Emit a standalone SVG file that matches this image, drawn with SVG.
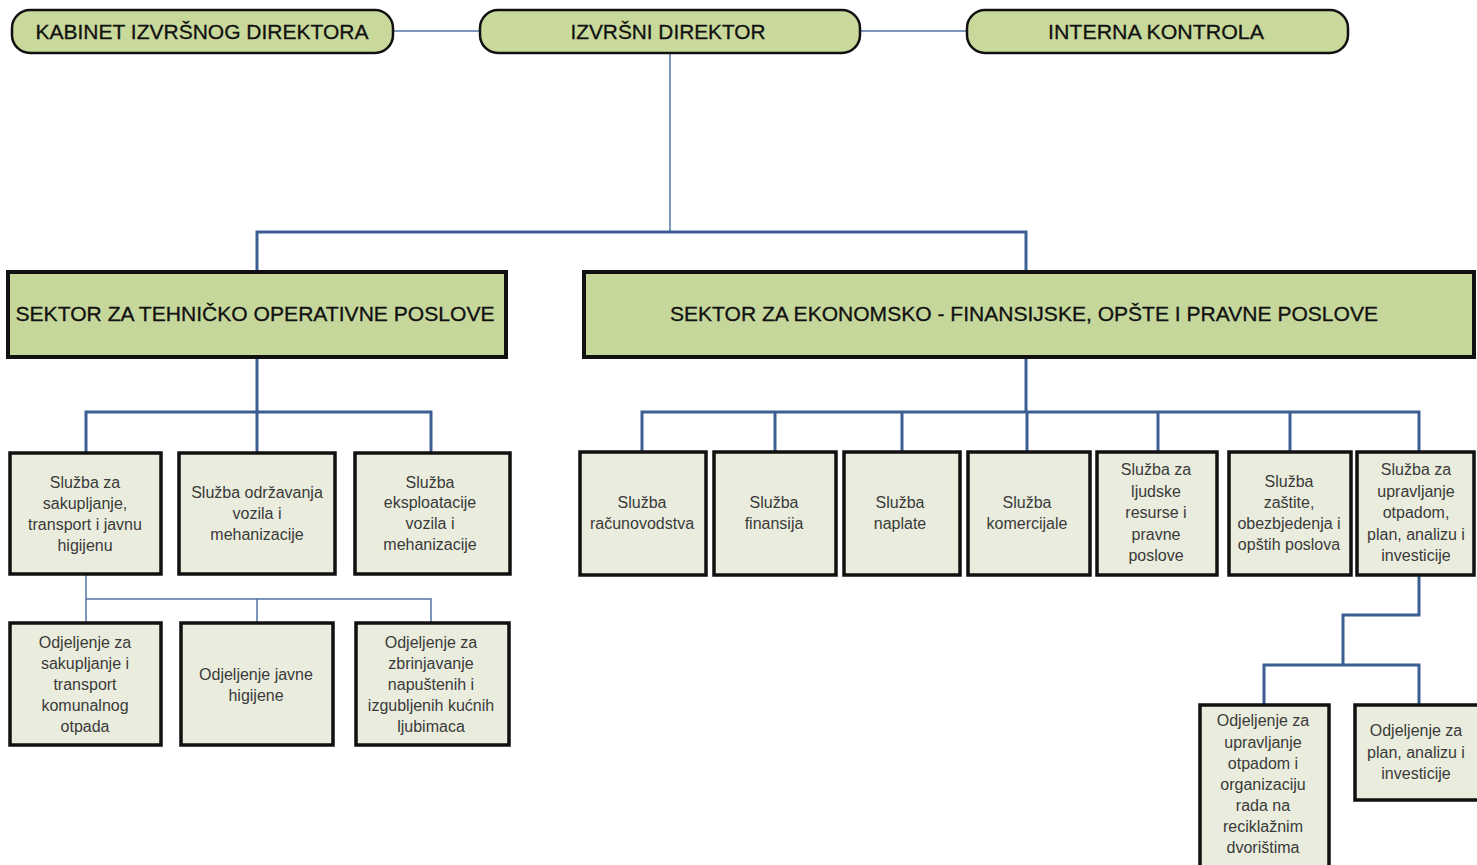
<svg xmlns="http://www.w3.org/2000/svg" width="1477" height="865" viewBox="0 0 1477 865">
<style>
.top{fill:#c9d99c;stroke:#111;stroke-width:2.5}
.sec{fill:#c6d79c;stroke:#111;stroke-width:4}
.box{fill:#eaeddd;stroke:#111;stroke-width:3.5}
.tt{font-family:"Liberation Sans",Arial,sans-serif;font-size:21px;fill:#111;text-anchor:middle;stroke:#111;stroke-width:0.3}
.st{font-family:"Liberation Sans",Arial,sans-serif;font-size:21px;fill:#111;text-anchor:middle;stroke:#111;stroke-width:0.3}
.bt{font-family:"Liberation Sans",Arial,sans-serif;font-size:16px;fill:#3a3a3a;text-anchor:middle}
.thin{stroke:#4f74a8;stroke-width:1.5;fill:none}
.thick{stroke:#3b5f92;stroke-width:3;fill:none}
</style>
<rect width="1477" height="865" fill="#ffffff"/>
<g id="connectors">
<path class="thin" d="M393 31H480M860 31H967"/>
<path class="thin" d="M670 53V232"/>
<path class="thick" d="M257 272V232H1026V272"/>
<path class="thick" d="M257 357V412M86 453V412H431V453M257 412V453"/>
<path class="thick" d="M1026 357V412M642 453V412H1419V453M775 412V453M902 412V453M1027 412V453M1158 412V453M1290 412V453"/>
<path class="thin" d="M86 574V599M86 599V623M86 599H431V623M257 599V623"/>
<path class="thick" d="M1419 575V615H1343V665M1264 705V665H1419V705"/>
</g>
<g id="kabinet"><rect class="top" x="12" y="10" width="381" height="43" rx="18"/><text class="tt" x="202" y="39" textLength="333" lengthAdjust="spacingAndGlyphs">KABINET IZVRŠNOG DIREKTORA</text></g>
<g id="direktor"><rect class="top" x="480" y="10" width="380" height="43" rx="18"/><text class="tt" x="668" y="39" textLength="195" lengthAdjust="spacingAndGlyphs">IZVRŠNI DIREKTOR</text></g>
<g id="kontrola"><rect class="top" x="967" y="10" width="381" height="43" rx="18"/><text class="tt" x="1156" y="39" textLength="216" lengthAdjust="spacingAndGlyphs">INTERNA KONTROLA</text></g>
<g id="sektor1"><rect class="sec" x="8" y="272" width="498" height="85"/><text class="st" x="255" y="321" textLength="479" lengthAdjust="spacingAndGlyphs">SEKTOR ZA TEHNIČKO OPERATIVNE POSLOVE</text></g>
<g id="sektor2"><rect class="sec" x="584" y="272" width="890" height="85"/><text class="st" x="1024" y="321" textLength="708" lengthAdjust="spacingAndGlyphs">SEKTOR ZA EKONOMSKO - FINANSIJSKE, OPŠTE I PRAVNE POSLOVE</text></g>
<g id="s1"><rect class="box" x="10" y="453" width="151" height="121"/><text class="bt" x="85"><tspan x="85" y="488">Služba za</tspan><tspan x="85" y="509">sakupljanje,</tspan><tspan x="85" y="530">transport i javnu</tspan><tspan x="85" y="551">higijenu</tspan></text></g>
<g id="s2"><rect class="box" x="179" y="453" width="156" height="121"/><text class="bt" x="257"><tspan x="257" y="498">Služba održavanja</tspan><tspan x="257" y="519">vozila i</tspan><tspan x="257" y="540">mehanizacije</tspan></text></g>
<g id="s3"><rect class="box" x="355" y="453" width="155" height="121"/><text class="bt" x="430"><tspan x="430" y="488">Služba</tspan><tspan x="430" y="508">eksploatacije</tspan><tspan x="430" y="529">vozila i</tspan><tspan x="430" y="550">mehanizacije</tspan></text></g>
<g id="o1"><rect class="box" x="10" y="623" width="151" height="122"/><text class="bt" x="85"><tspan x="85" y="648">Odjeljenje za</tspan><tspan x="85" y="669">sakupljanje i</tspan><tspan x="85" y="690">transport</tspan><tspan x="85" y="711">komunalnog</tspan><tspan x="85" y="732">otpada</tspan></text></g>
<g id="o2"><rect class="box" x="181" y="623" width="152" height="122"/><text class="bt" x="256"><tspan x="256" y="680">Odjeljenje javne</tspan><tspan x="256" y="701">higijene</tspan></text></g>
<g id="o3"><rect class="box" x="356" y="623" width="153" height="122"/><text class="bt" x="431"><tspan x="431" y="648">Odjeljenje za</tspan><tspan x="431" y="669">zbrinjavanje</tspan><tspan x="431" y="690">napuštenih i</tspan><tspan x="431" y="711">izgubljenih kućnih</tspan><tspan x="431" y="732">ljubimaca</tspan></text></g>
<g id="r1"><rect class="box" x="580" y="452" width="126" height="123"/><text class="bt" x="642"><tspan x="642" y="508">Služba</tspan><tspan x="642" y="529">računovodstva</tspan></text></g>
<g id="r2"><rect class="box" x="714" y="452" width="122" height="123"/><text class="bt" x="774"><tspan x="774" y="508">Služba</tspan><tspan x="774" y="529">finansija</tspan></text></g>
<g id="r3"><rect class="box" x="844" y="452" width="116" height="123"/><text class="bt" x="900"><tspan x="900" y="508">Služba</tspan><tspan x="900" y="529">naplate</tspan></text></g>
<g id="r4"><rect class="box" x="968" y="452" width="122" height="123"/><text class="bt" x="1027"><tspan x="1027" y="508">Služba</tspan><tspan x="1027" y="529">komercijale</tspan></text></g>
<g id="r5"><rect class="box" x="1097" y="452" width="120" height="123"/><text class="bt" x="1156"><tspan x="1156" y="475">Služba za</tspan><tspan x="1156" y="497">ljudske</tspan><tspan x="1156" y="518">resurse i</tspan><tspan x="1156" y="540">pravne</tspan><tspan x="1156" y="561">poslove</tspan></text></g>
<g id="r6"><rect class="box" x="1229" y="452" width="122" height="123"/><text class="bt" x="1289"><tspan x="1289" y="487">Služba</tspan><tspan x="1289" y="508">zaštite,</tspan><tspan x="1289" y="529">obezbjedenja i</tspan><tspan x="1289" y="550">opštih poslova</tspan></text></g>
<g id="r7"><rect class="box" x="1357" y="452" width="117" height="123"/><text class="bt" x="1416"><tspan x="1416" y="475">Služba za</tspan><tspan x="1416" y="497">upravljanje</tspan><tspan x="1416" y="518">otpadom,</tspan><tspan x="1416" y="540">plan, analizu i</tspan><tspan x="1416" y="561">investicije</tspan></text></g>
<g id="b1"><rect class="box" x="1200" y="705" width="129" height="165"/><text class="bt" x="1263"><tspan x="1263" y="726">Odjeljenje za</tspan><tspan x="1263" y="748">upravljanje</tspan><tspan x="1263" y="769">otpadom i</tspan><tspan x="1263" y="790">organizaciju</tspan><tspan x="1263" y="811">rada na</tspan><tspan x="1263" y="832">reciklažnim</tspan><tspan x="1263" y="853">dvorištima</tspan></text></g>
<g id="b2"><rect class="box" x="1355" y="705" width="124" height="95"/><text class="bt" x="1416"><tspan x="1416" y="736">Odjeljenje za</tspan><tspan x="1416" y="758">plan, analizu i</tspan><tspan x="1416" y="779">investicije</tspan></text></g>
</svg>
